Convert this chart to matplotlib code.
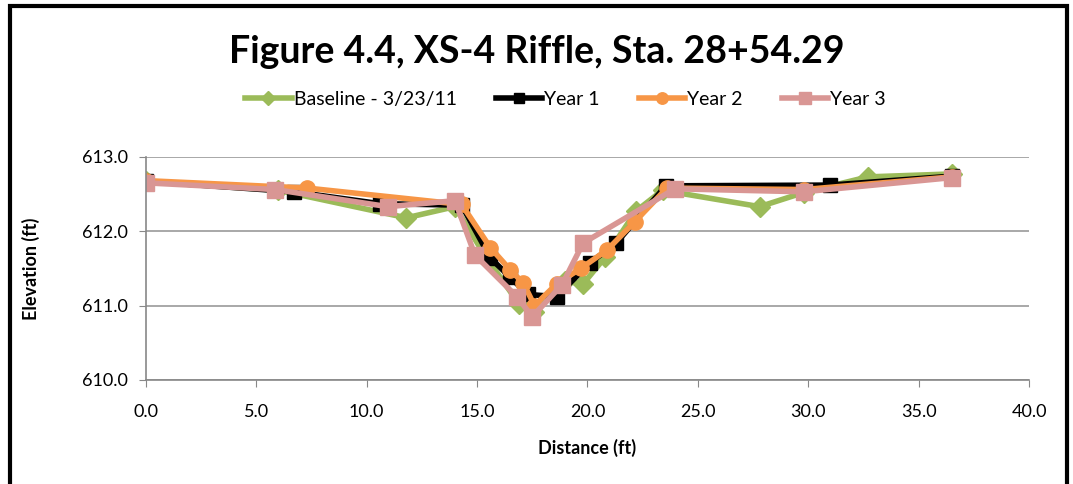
import matplotlib.pyplot as plt
from matplotlib.patches import Rectangle

plt.rcParams['font.family'] = ['Lato', 'DejaVu Sans']

# cross-section survey data (distance ft, elevation ft)
base_x = [0.0, 6.0, 11.8, 14.0, 15.3, 16.9, 17.6, 19.0, 19.8, 20.8, 22.2, 23.4, 27.8, 29.8, 32.7, 36.5]
base_y = [612.67, 612.55, 612.18, 612.33, 611.70, 611.02, 610.91, 611.33, 611.29, 611.65, 612.27, 612.55, 612.33, 612.52, 612.73, 612.77]

yr1_x = [0.0, 6.7, 10.6, 14.3, 15.6, 16.5, 17.3, 18.6, 20.1, 21.3, 23.55, 31.0, 36.5]
yr1_y = [612.67, 612.53, 612.37, 612.35, 611.64, 611.38, 611.15, 611.12, 611.57, 611.84, 612.61, 612.62, 612.74]

yr2_x = [0.0, 7.3, 14.3, 15.6, 16.5, 17.1, 17.6, 18.6, 19.7, 20.9, 22.15, 23.6, 29.8, 36.5]
yr2_y = [612.68, 612.58, 612.36, 611.78, 611.48, 611.30, 611.00, 611.29, 611.50, 611.75, 612.13, 612.58, 612.56, 612.73]

yr3_x = [0.0, 5.85, 10.96, 14.0, 14.9, 16.8, 17.5, 18.85, 19.8, 23.96, 29.8, 36.5]
yr3_y = [612.65, 612.56, 612.33, 612.41, 611.68, 611.12, 610.85, 611.28, 611.84, 612.57, 612.53, 612.72]

x_ticks = [0, 5, 10, 15, 20, 25, 30, 35, 40]
y_ticks = [610, 611, 612, 613]

fig = plt.figure(figsize=(10.73, 4.84), dpi=100)
ax = fig.add_axes([0.136, 0.215, 0.823, 0.461])

# outer chart frame
fig.patches.append(Rectangle((0.0095, -0.05), 0.985, 1.037, transform=fig.transFigure,
                             fill=False, edgecolor='black', linewidth=3))

ax.plot(base_x, base_y, color='#9BBB59', marker='D', markersize=10, linewidth=4, label='Baseline - 3/23/11')
ax.plot(yr1_x, yr1_y, color='black', marker='s', markersize=10, linewidth=4, label='Year 1')
ax.plot(yr2_x, yr2_y, color='#F79646', marker='o', markersize=11, linewidth=4, label='Year 2')
ax.plot(yr3_x, yr3_y, color='#D99694', marker='s', markersize=12, linewidth=4, label='Year 3')

ax.set_xlim(0, 40)
ax.set_ylim(610, 613)
ax.set_xticks(x_ticks)
ax.set_xticklabels(['%.1f' % v for v in x_ticks])
ax.set_yticks(y_ticks)
ax.set_yticklabels(['%.1f' % v for v in y_ticks])
ax.tick_params(labelsize=13, length=5, color='#888888', direction='out')
ax.tick_params(axis='x', pad=12)
ax.tick_params(axis='y', length=5, pad=8)
ax.grid(True, axis='y', color='#999999', linewidth=1.2)
ax.set_axisbelow(True)
for side in ['top', 'right']:
    ax.spines[side].set_visible(False)
for side in ['bottom', 'left']:
    ax.spines[side].set_color('#888888')
    ax.spines[side].set_linewidth(1.2)

ax.set_xlabel('Distance (ft)', fontsize=13, fontweight='bold', labelpad=14)
ax.set_ylabel('Elevation (ft)', fontsize=13, fontweight='bold', labelpad=30)

fig.text(0.5, 0.893, 'Figure 4.4, XS-4 Riffle, Sta. 28+54.29', ha='center', va='center',
         fontsize=27, fontweight='bold')
fig.legend(loc='center', bbox_to_anchor=(0.527, 0.795), ncol=4, frameon=False, fontsize=14,
           handlelength=2.4, handletextpad=0.1, columnspacing=2.0, markerscale=0.75)

plt.savefig('out.png', dpi=100)
